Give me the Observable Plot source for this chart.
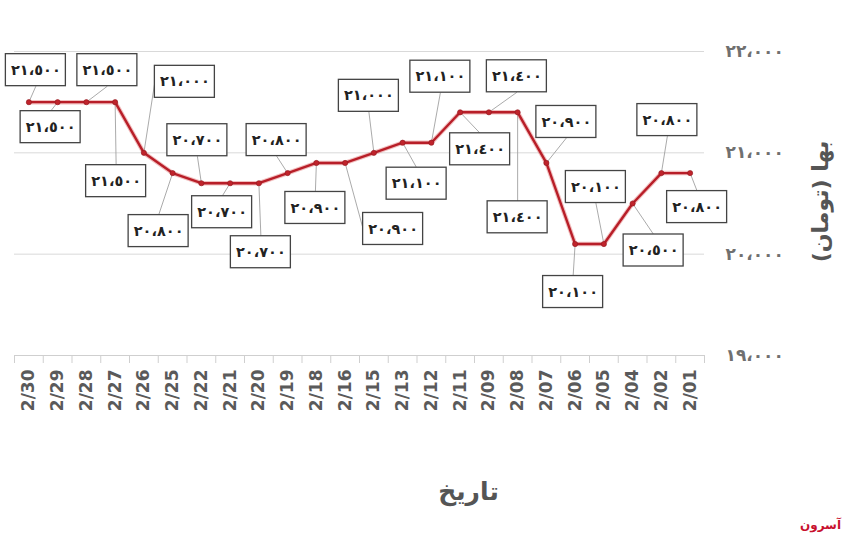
<!DOCTYPE html>
<html><head><meta charset="utf-8">
<script src="https://cdn.jsdelivr.net/npm/d3@7"></script>
<script src="https://cdn.jsdelivr.net/npm/@observablehq/plot@0.6"></script>
<style>body{margin:0;background:#fff}</style>
</head><body><div id="chart"></div>
<script>
// ---- data ----
const dates = ["2/30","2/29","2/28","2/27","2/26","2/25","2/22","2/21","2/20","2/19","2/18","2/16","2/15","2/13","2/12","2/11","2/09","2/08","2/07","2/06","2/05","2/04","2/02","2/01"];
const prices = [21500,21500,21500,21500,21000,20800,20700,20700,20700,20800,20900,20900,21000,21100,21100,21400,21400,21400,20900,20100,20100,20500,20800,20800];
const yTicks = [19000,20000,21000,22000];
const xTitle = "تاریخ";
const yTitle = "بها (تومان)";
const logoText = "آسرون";
// label box offsets from their point (pixels)
const labelDx = [7,-7,21,1,41,-14,-4,-8,2,-11,-1,48,-5,14,9,20,28,0,20,-2,-8,21,6,7];
const labelDy = [-32,25,-32,79,-71,58,-43,29,69,-33,45,66,-57,41,-66,37,-36,105,-41,48,-57,47,-53,34];

// ---- layout ----
const W = 860, H = 538, mL = 14, mR = 156, mT = 51, mB = 183;
const yDom = [19000, 22000];
const pxX = (W - mL - mR) / dates.length;          // px per category
const pxY = (H - mT - mB) / (yDom[1] - yDom[0]);   // px per value unit
const boxW = 60, boxH = 32;

const fa = n => d3.format(",")(n).replace(/\d/g, d => "٠١٢٣٤٥٦٧٨٩"[d]).replace(/,/g, "،");

const data = prices.map((v, i) => {
  const dx = labelDx[i], dy = labelDy[i];
  let ax, ay;
  if (Math.abs(dx) > boxW / 2) { ax = dx - Math.sign(dx) * boxW / 2; ay = dy; }   // side middle
  else { ax = dx; ay = dy - Math.sign(dy) * boxH / 2; }                            // top/bottom centre
  return {
    i, v, label: fa(v),
    cx: i + dx / pxX, cy: v - dy / pxY,
    bx1: i + (dx - boxW/2) / pxX, bx2: i + (dx + boxW/2) / pxX,
    by1: v - (dy - boxH/2) / pxY, by2: v - (dy + boxH/2) / pxY,
    ax: i + ax / pxX, ay: v - ay / pxY
  };
});

const chart = Plot.plot({
  width: W, height: H,
  marginLeft: mL, marginRight: mR, marginTop: mT, marginBottom: mB,
  x: {type: "linear", domain: [-0.5, dates.length - 0.5]},
  y: {domain: yDom},
  style: {fontFamily: "DejaVu Sans", background: "#fff"},
  marks: [
    Plot.ruleY(yTicks.filter(t => t > yDom[0]), {stroke: "#d9d9d9", strokeWidth: 1}),
    Plot.ruleY([yDom[0]], {stroke: "#cfcfcf", strokeWidth: 1}),
    Plot.ruleX(d3.range(dates.length + 1).map(i => i - 0.5), {y1: yDom[0], y2: yDom[0] - 8 / pxY, stroke: "#cfcfcf"}),
    Plot.axisX(d3.range(dates.length), {tickFormat: i => dates[i], tickRotate: -90, tickSize: 0, tickPadding: 14, fontSize: 17, fontWeight: "bold", color: "#5a5a5a", label: null}),
    Plot.axisY(yTicks, {anchor: "right", tickSize: 0, tickPadding: 21, tickFormat: fa, fontSize: 17, fontWeight: "bold", color: "#707070", label: null}),
    Plot.link(data, {x1: "i", y1: "v", x2: "ax", y2: "ay", stroke: "#a0a0a0", strokeWidth: 0.9}),
    Plot.line(data, {x: "i", y: "v", stroke: "#e07070", strokeWidth: 4.5, strokeOpacity: 0.45}),
    Plot.line(data, {x: "i", y: "v", stroke: "#b81e28", strokeWidth: 2.4}),
    Plot.dot(data, {x: "i", y: "v", r: 2.6, fill: "#c0232b", stroke: "#8e1a20", strokeWidth: 0.6}),
    Plot.rect(data, {x1: "bx1", x2: "bx2", y1: "by1", y2: "by2", fill: "#fff", stroke: "#444", strokeWidth: 1.3}),
    Plot.text(data, {x: "cx", y: "cy", text: "label", fontSize: 14.5, fontWeight: "bold", fill: "#222"}),
    Plot.text([xTitle], {frameAnchor: "bottom", textAnchor: "middle", lineAnchor: "middle", dx: 109, dy: 136, fontSize: 25, fontWeight: "bold", fill: "#555"}),
    Plot.text([yTitle], {frameAnchor: "right", textAnchor: "middle", lineAnchor: "middle", rotate: -90, dx: 116, dy: -2, fontSize: 22, fontWeight: "bold", fill: "#555"}),
    Plot.text([logoText], {frameAnchor: "bottom-right", textAnchor: "middle", lineAnchor: "middle", dx: 116, dy: 170, fontSize: 12, fontWeight: "bold", fill: "#c8102e"})
  ]
});
document.getElementById("chart").appendChild(chart);
</script>
</body></html>
